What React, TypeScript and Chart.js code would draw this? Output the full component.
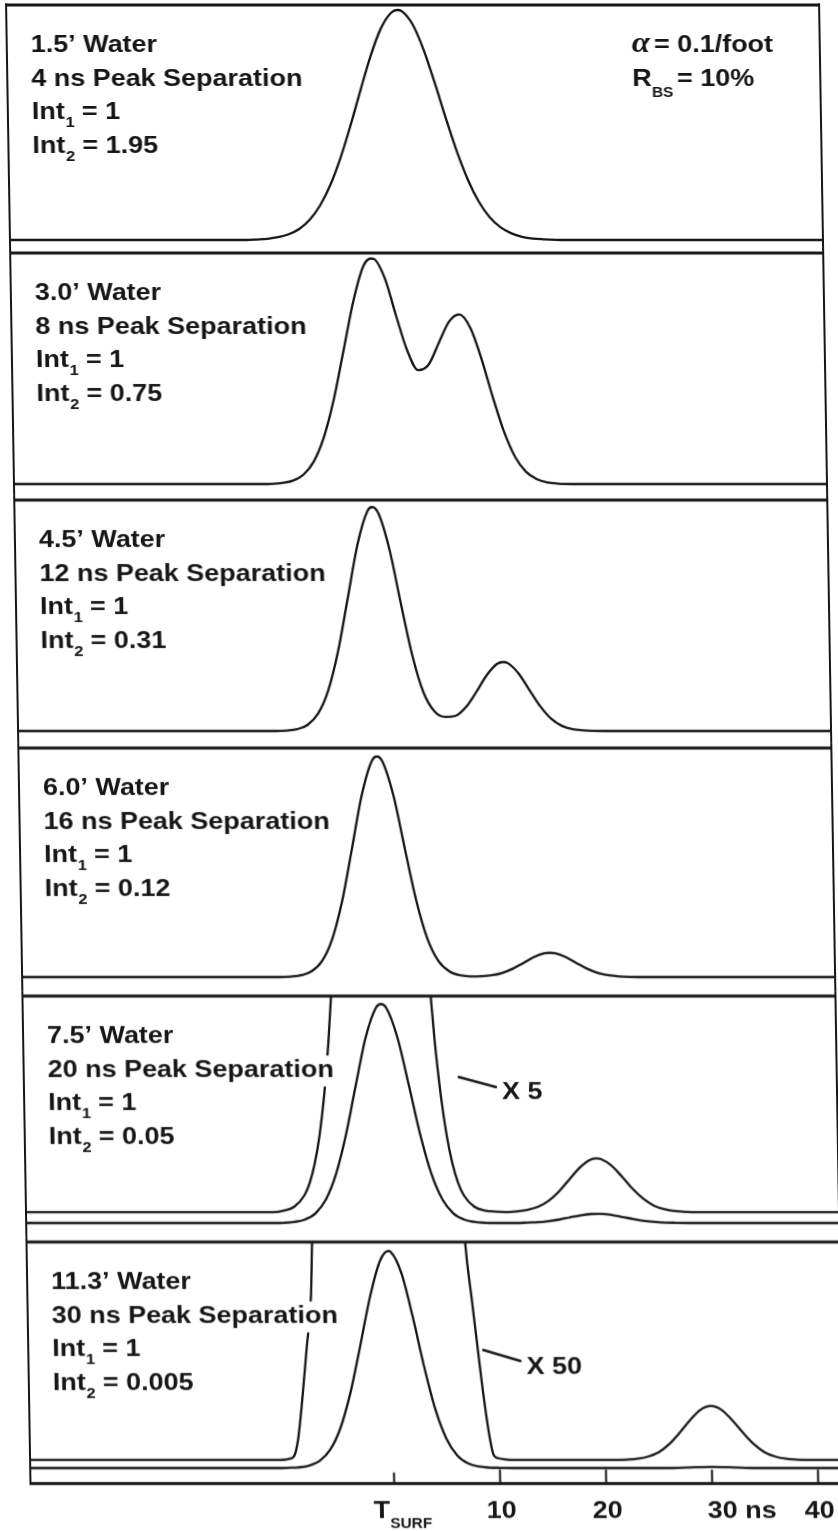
import React, { useEffect, useRef } from "react";
import { Chart, registerables } from "chart.js";

Chart.register(...registerables);

// ---------------- DATA (time in ns relative to T_SURF, amplitude relative to first return) ----------------
const p1Times = [-34.4, -12, -11, -10, -9, -8, -7, -6, -5, -4, -3, -2, -1, 0, 1, 2, 2.6, 3, 4, 5, 6, 7, 8, 9, 10, 11, 12, 13, 14, 15, 16, 18, 42.4];
const p1Signal = [0, 0, 0.002, 0.005, 0.012, 0.025, 0.048, 0.088, 0.15, 0.239, 0.357, 0.499, 0.653, 0.801, 0.919, 0.988, 1.0, 0.995, 0.938, 0.828, 0.684, 0.529, 0.383, 0.26, 0.165, 0.098, 0.055, 0.029, 0.014, 0.006, 0.003, 0, 0];

const p2Times = [-34.4, -11, -10, -9, -8, -7, -6, -5, -4, -3, -2, -1, -0.3, 0, 1, 2, 3, 4, 5, 6, 7, 7.95, 9, 10, 11, 12, 13, 14, 15, 16, 17, 19, 42.4];
const p2Signal = [0, 0, 0.001, 0.005, 0.015, 0.041, 0.099, 0.208, 0.377, 0.595, 0.814, 0.968, 1.0, 0.998, 0.911, 0.746, 0.591, 0.505, 0.53, 0.628, 0.721, 0.752, 0.691, 0.553, 0.384, 0.232, 0.121, 0.055, 0.022, 0.007, 0.002, 0, 0];

const p3Times = [-34.4, -11, -10, -9, -8, -7, -6, -5, -4, -3, -2, -1, -0.55, 0, 1, 2, 3, 4, 5, 6, 7, 8, 9, 10, 11, 11.55, 12, 13, 14, 15, 16, 17, 18, 19, 20, 22, 42.4];
const p3Signal = [0, 0, 0, 0.002, 0.008, 0.027, 0.076, 0.179, 0.356, 0.594, 0.833, 0.983, 1.0, 0.974, 0.812, 0.569, 0.337, 0.172, 0.088, 0.063, 0.068, 0.108, 0.176, 0.25, 0.3, 0.308, 0.303, 0.257, 0.183, 0.11, 0.055, 0.023, 0.008, 0.003, 0.001, 0, 0];

const p4Times = [-34.4, -11, -10, -9, -8, -7, -6, -5, -4, -3, -2, -1, -0.5, 0, 1, 2, 3, 4, 5, 6, 7, 8, 9, 10, 11, 12, 13, 14, 15, 15.5, 16, 17, 18, 19, 20, 21, 22, 23, 25, 42.4];
const p4Signal = [0, 0, 0, 0.002, 0.008, 0.026, 0.072, 0.172, 0.345, 0.581, 0.823, 0.979, 1.0, 0.979, 0.823, 0.581, 0.345, 0.172, 0.072, 0.026, 0.008, 0.003, 0.004, 0.008, 0.019, 0.038, 0.064, 0.091, 0.108, 0.11, 0.108, 0.091, 0.064, 0.038, 0.019, 0.008, 0.003, 0.001, 0, 0];

const p5Times = [-34.4, -11, -10, -9, -8, -7, -6, -5, -4, -3, -2, -1, -0.5, 0, 1, 2, 3, 4, 5, 6, 7, 8, 9, 10, 12, 13, 14, 15, 16, 17, 18, 19, 19.6, 20, 21, 22, 23, 24, 25, 26, 27, 29, 42.4];
const p5Signal = [0, 0, 0.001, 0.005, 0.016, 0.044, 0.107, 0.224, 0.404, 0.63, 0.847, 0.982, 1.0, 0.982, 0.847, 0.63, 0.404, 0.224, 0.107, 0.044, 0.016, 0.005, 0.001, 0, 0, 0.002, 0.004, 0.009, 0.016, 0.026, 0.035, 0.041, 0.042, 0.042, 0.036, 0.027, 0.018, 0.01, 0.005, 0.002, 0.001, 0, 0];

const p5TimesX5 = [-34.4, -11, -10, -9, -8, -7.5, -7, -6.5, -6, -5.5, -5, -4.5, -4, -3, -2, -1, -0.5, 0, 1, 2, 3, 3.5, 4, 4.5, 5, 5.5, 6, 6.5, 7, 8, 9, 10, 11, 12, 13, 14, 15, 16, 17, 18, 19, 19.6, 20, 21, 22, 23, 24, 25, 26, 27, 28, 29, 42.4];
const p5SignalX5 = [0.05, 0.05, 0.057, 0.074, 0.128, 0.183, 0.27, 0.399, 0.584, 0.837, 1.169, 1.58, 2.07, 3.2, 4.28, 4.96, 5.05, 4.96, 4.28, 3.2, 2.07, 1.58, 1.169, 0.837, 0.584, 0.399, 0.27, 0.183, 0.128, 0.074, 0.057, 0.052, 0.05, 0.053, 0.06, 0.074, 0.101, 0.144, 0.199, 0.253, 0.289, 0.295, 0.292, 0.262, 0.21, 0.154, 0.109, 0.078, 0.062, 0.054, 0.051, 0.05, 0.05];

const p6Times = [-34.4, -11, -10, -9, -8, -7, -6, -5, -4, -3, -2, -1, -0.2, 0, 1, 2, 3, 4, 5, 6, 7, 8, 9, 10, 12, 26, 28, 30, 32, 34, 42.4];
const p6Signal = [0, 0, 0.001, 0.003, 0.011, 0.033, 0.083, 0.182, 0.344, 0.56, 0.787, 0.954, 1.0, 0.997, 0.899, 0.699, 0.469, 0.271, 0.135, 0.058, 0.022, 0.007, 0.002, 0.001, 0, 0, 0.003, 0.005, 0.003, 0, 0];

const p6TimesX50 = [-34.4, -11, -10.4, -9.9, -9.4, -9.0, -8.55, -8.05, -7.55, -7.37, -7.0, -6.0, -4.0, -2.0, -0.2, 1.6, 3.6, 5.6, 6.7, 7.07, 7.6, 8.09, 8.6, 9.12, 9.43, 9.9, 10.5, 11.2, 21, 22, 23, 24, 25, 26, 27, 28, 29, 30, 31, 32, 33, 34, 35, 36, 37, 38, 39, 42.4];
const p6SignalX50 = [0.037, 0.037, 0.038, 0.042, 0.055, 0.13, 0.31, 0.55, 0.8, 1.04, 1.4, 4.0, 20, 40, 50, 40, 20, 4.0, 1.4, 1.04, 0.78, 0.55, 0.32, 0.13, 0.06, 0.045, 0.04, 0.037, 0.037, 0.039, 0.043, 0.053, 0.073, 0.11, 0.162, 0.22, 0.268, 0.286, 0.268, 0.22, 0.162, 0.11, 0.073, 0.053, 0.043, 0.039, 0.037, 0.037];

const depthLabels = ["1.5\u2019 Water", "3.0\u2019 Water", "4.5\u2019 Water", "6.0\u2019 Water", "7.5\u2019 Water", "11.3\u2019 Water"];
const separationLabels = ["4 ns Peak Separation", "8 ns Peak Separation", "12 ns Peak Separation", "16 ns Peak Separation", "20 ns Peak Separation", "30 ns Peak Separation"];
const int1Labels = ["1", "1", "1", "1", "1", "1"];
const int2Labels = ["1.95", "0.75", "0.31", "0.12", "0.05", "0.005"];
const gainLabels = ["", "", "", "", "X 5", "X 50"];
const axisTickValues = [0, 10, 20, 30, 40];
const axisTickLabels = ["T", "10", "20", "30 ns", "40"];
const axisTickSubLabels = ["SURF", "", "", "", ""];
const alphaSymbol = "\u03B1";
const alphaText = "= 0.1/foot";
const reflectMain = "R";
const reflectSub = "BS";
const reflectText = "= 10%";

const panelSeries = [
  [[p1Times, p1Signal]],
  [[p2Times, p2Signal]],
  [[p3Times, p3Signal]],
  [[p4Times, p4Signal]],
  [[p5Times, p5Signal], [p5TimesX5, p5SignalX5]],
  [[p6Times, p6Signal], [p6TimesX50, p6SignalX50]],
];

// ---------------- LAYOUT ----------------
const W = 838;
const H = 1531;
const SKEW = 0.0165; // the scanned figure is slightly sheared
const PX_PER_NS = 10.6;
const U_T0 = 369.7;
const U_LEFT = 6;
const U_RIGHT = 819;
const CANVAS_W = 880;
const PANEL_TOP = [5, 253, 500, 748, 996, 1242];
const PANEL_BASE = [240, 484, 731, 977, 1223, 1468];
const PANEL_UNIT = [230, 225.5, 224, 220.5, 219, 217];
const AXIS_Y = 1483.5;
const TEXT_U = 30;
const ROW0 = 47;
const ROW_STEP = 33.5;
const GAIN_POS = [null, null, null, null,
  { l: [441, 1077, 478, 1087], t: [484, 1099] },
  { l: [461, 1350, 498, 1361], t: [504, 1374] }];
const INK = "#161616";
const SANS = "'Liberation Sans', Arial, Helvetica, sans-serif";
const SERIF = "'Liberation Serif', 'Times New Roman', serif";
const SX = 1.1;
const MAIN = 24.5;
const SUB = 15;

const canvasTop = (i: number) => PANEL_TOP[i] - 5;
const canvasBottom = (i: number) => (i < 5 ? PANEL_TOP[i + 1] - 5 : H);
const chartBottom = (i: number) => (i < 5 ? PANEL_BASE[i] + 6 : AXIS_Y);

type Piece = { s: string; size: number; dy?: number; dx?: number; font?: string; style?: string };

function fontOf(p: Piece) {
  return `${p.style || "bold"} ${p.size}px ${p.font || SANS}`;
}

function drawPieces(ctx: CanvasRenderingContext2D, x: number, y: number, pieces: Piece[], box: boolean, align = "left") {
  const ws: number[] = [];
  let w = 0;
  for (const p of pieces) {
    ctx.font = fontOf(p);
    const pw = ctx.measureText(p.s).width * SX + (p.dx || 0);
    ws.push(pw);
    w += pw;
  }
  let cx = align === "center" ? x - w / 2 : x;
  if (box) {
    ctx.fillStyle = "#ffffff";
    ctx.fillRect(cx - 3, y - 21, w + 6, 31);
  }
  ctx.fillStyle = INK;
  pieces.forEach((p, k) => {
    ctx.save();
    ctx.font = fontOf(p);
    ctx.translate(cx + (p.dx || 0), y + (p.dy || 0));
    ctx.scale(SX, 1);
    ctx.fillText(p.s, 0, 0);
    ctx.restore();
    cx += ws[k];
  });
  return w;
}

function makeDecor(i: number) {
  return {
    id: "panelDecor" + i,
    afterDatasetsDraw(chart: any) {
      const ctx: CanvasRenderingContext2D = chart.ctx;
      const area = chart.chartArea;
      const off = canvasTop(i);
      const ch = chart.height;
      ctx.save();
      ctx.textBaseline = "alphabetic";

      // labels
      const r1 = PANEL_TOP[i] + ROW0 - off;
      drawPieces(ctx, TEXT_U, r1, [{ s: depthLabels[i], size: MAIN }], true);
      drawPieces(ctx, TEXT_U, r1 + ROW_STEP, [{ s: separationLabels[i], size: MAIN }], true);
      drawPieces(ctx, TEXT_U, r1 + 2 * ROW_STEP, [
        { s: "Int", size: MAIN }, { s: "1", size: SUB, dy: 8, dx: 0.5 }, { s: " = " + int1Labels[i], size: MAIN },
      ], true);
      drawPieces(ctx, TEXT_U, r1 + 3 * ROW_STEP, [
        { s: "Int", size: MAIN }, { s: "2", size: SUB, dy: 8, dx: 0.5 }, { s: " = " + int2Labels[i], size: MAIN },
      ], true);

      if (i === 0) {
        drawPieces(ctx, 631, r1, [
          { s: alphaSymbol, size: 30, font: SERIF, style: "italic bold" },
          { s: alphaText, size: MAIN, dx: 4 },
        ], false);
        drawPieces(ctx, 631, r1 + ROW_STEP, [
          { s: reflectMain, size: MAIN }, { s: reflectSub, size: 14, dy: 11 }, { s: reflectText, size: MAIN, dx: 4 },
        ], false);
      }

      const g = GAIN_POS[i];
      if (g) {
        ctx.strokeStyle = INK;
        ctx.lineWidth = 2.4;
        ctx.lineCap = "round";
        ctx.beginPath();
        ctx.moveTo(g.l[0], g.l[1] - off);
        ctx.lineTo(g.l[2], g.l[3] - off);
        ctx.stroke();
        drawPieces(ctx, g.t[0], g.t[1] - off, [{ s: gainLabels[i], size: MAIN }], false);
      }

      // frame
      ctx.strokeStyle = INK;
      ctx.lineCap = "butt";
      ctx.lineWidth = 3;
      ctx.beginPath();
      ctx.moveTo(area.left - 1, area.top);
      ctx.lineTo(area.right + 1, area.top);
      ctx.stroke();

      ctx.lineWidth = 2;
      const yStart = i === 0 ? area.top - 1.5 : 0;
      const yEnd = i === 5 ? area.bottom + 1.5 : ch;
      const yEndRight = i === 4 ? area.bottom - 6 : yEnd;
      ctx.beginPath();
      ctx.moveTo(area.left, yStart);
      ctx.lineTo(area.left, yEnd);
      ctx.moveTo(area.right, yStart);
      ctx.lineTo(area.right, yEndRight);
      ctx.stroke();

      if (i === 5) {
        const xs = chart.scales.x;
        ctx.lineWidth = 3;
        ctx.beginPath();
        ctx.moveTo(area.left - 1, area.bottom);
        ctx.lineTo(area.right + 1, area.bottom);
        ctx.stroke();
        ctx.lineWidth = 2;
        axisTickValues.forEach((v, k) => {
          const px = xs.getPixelForValue(v);
          ctx.beginPath();
          ctx.moveTo(px, area.bottom);
          ctx.lineTo(px, area.bottom - (k === 0 ? 11 : 14));
          ctx.stroke();
          const ly = 1518 - off;
          if (k === 0) {
            drawPieces(ctx, px - 21, ly, [{ s: axisTickLabels[k], size: MAIN }, { s: axisTickSubLabels[k], size: 14, dy: 10 }], false);
          } else if (axisTickLabels[k].indexOf(" ") >= 0) {
            drawPieces(ctx, px - 5, ly, [{ s: axisTickLabels[k], size: MAIN }], false);
          } else {
            drawPieces(ctx, px + 1, ly, [{ s: axisTickLabels[k], size: MAIN }], false, "center");
          }
        });
      }
      ctx.restore();
    },
  };
}

function buildChart(canvas: HTMLCanvasElement, i: number) {
  const off = canvasTop(i);
  const h = canvasBottom(i) - off;
  const cb = chartBottom(i);
  const yMax = (PANEL_BASE[i] - PANEL_TOP[i]) / PANEL_UNIT[i];
  const yMin = -(cb - PANEL_BASE[i]) / PANEL_UNIT[i];
  const xMin = (U_LEFT - U_T0) / PX_PER_NS;
  const xMax = (U_RIGHT - U_T0) / PX_PER_NS;
  const datasets = panelSeries[i].map(([times, vals]) => ({
    data: (times as number[]).map((t, k) => ({ x: t, y: (vals as number[])[k] })),
    borderColor: INK,
    borderWidth: 2.3,
    pointRadius: 0,
    fill: false,
    cubicInterpolationMode: "monotone",
    borderJoinStyle: "round",
    borderCapStyle: "round",
  }));
  return new Chart(canvas, {
    type: "line",
    data: { datasets } as any,
    options: {
      responsive: false,
      maintainAspectRatio: false,
      animation: false,
      devicePixelRatio: 1,
      events: [],
      layout: { padding: { left: U_LEFT, right: CANVAS_W - U_RIGHT, top: PANEL_TOP[i] - off, bottom: h - (cb - off) } },
      scales: {
        x: { type: "linear", min: xMin, max: xMax, display: false },
        y: { type: "linear", min: yMin, max: yMax, display: false },
      },
      plugins: { legend: { display: false }, tooltip: { enabled: false }, title: { display: false } },
    } as any,
    plugins: [makeDecor(i)] as any,
  });
}

export default function App() {
  const refs = useRef<(HTMLCanvasElement | null)[]>([]);
  useEffect(() => {
    const charts = PANEL_TOP.map((_, i) => buildChart(refs.current[i] as HTMLCanvasElement, i));
    return () => charts.forEach((c) => c.destroy());
  }, []);
  return (
    <div style={{ position: "fixed", left: 0, top: 0, width: W, height: H, overflow: "hidden", background: "#ffffff" }}>
      <div
        style={{
          position: "absolute",
          left: 0,
          top: 0,
          width: CANVAS_W,
          height: H,
          transform: `skewX(${Math.atan(SKEW)}rad)`,
          transformOrigin: "0 0",
        }}
      >
        {PANEL_TOP.map((_, i) => (
          <canvas
            key={i}
            ref={(el) => {
              refs.current[i] = el;
            }}
            width={CANVAS_W}
            height={canvasBottom(i) - canvasTop(i)}
            style={{ position: "absolute", left: 0, top: canvasTop(i), width: CANVAS_W, height: canvasBottom(i) - canvasTop(i), display: "block" }}
          />
        ))}
      </div>
    </div>
  );
}
